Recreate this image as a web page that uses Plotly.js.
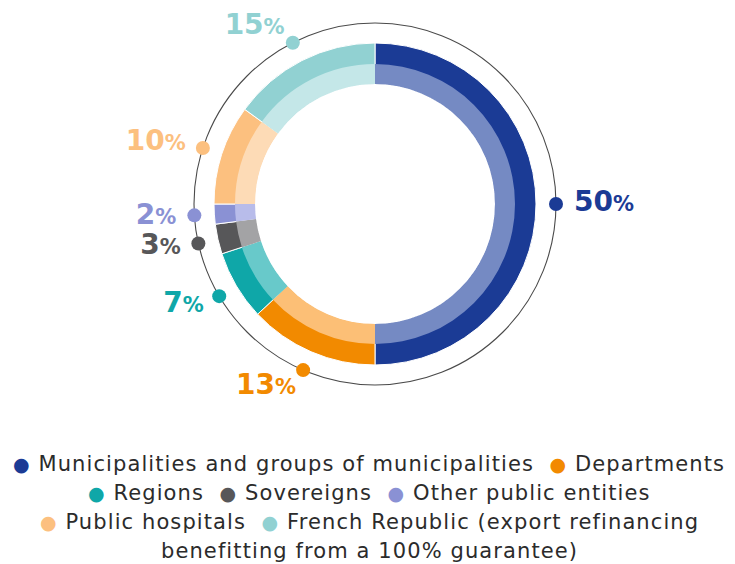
<!DOCTYPE html>
<html><head><meta charset="utf-8">
<script src="https://cdn.plot.ly/plotly-3.0.1.min.js"></script>
<style>html,body{margin:0;padding:0;background:#fff} .annotation-text{letter-spacing:1.1px}</style>
</head><body><div id="chart" style="width:735px;height:564px"></div>
<script>
// ---- data ----
const categories = ["Municipalities and groups of municipalities", "Departments", "Regions", "Sovereigns", "Other public entities", "Public hospitals", "French Republic (export refinancing benefitting from a 100% guarantee)"];
const shares = [50, 13, 7, 3, 2, 10, 15];
const outerColors = ["#1b3b95", "#f28a00", "#0fa7a8", "#575759", "#8a91d4", "#fcc07f", "#91d1d2"];
const innerColors = ["#758ac3", "#fcbf76", "#68c9ca", "#a3a3a5", "#b8bcea", "#fddbb6", "#c4e7e8"];
const labelPositions = ["middle right", "middle left", "middle left", "middle left", "middle left", "middle left", "middle left"];
const legendLabels = ["Municipalities and groups of municipalities", "Departments", "Regions", "Sovereigns", "Other public entities", "Public hospitals", "French Republic (export refinancing<br>benefitting from a 100% guarantee)"];
const legendRows = [[0, 1], [2, 3, 4], [5, 6]];

// ---- layout constants (pixels) ----
const W = 735, H = 564;
const CX = 375, CY = 204;
const R_OUTER = 161, R_MID = 140, R_HOLE = 120, R_LINE = 181, R_LABEL = 199, R_POLAR = 200;
const LABEL_FONT = "DejaVu Sans, Verdana, sans-serif";
const LEGEND_FONT = "DejaVu Sans, Verdana, sans-serif";

function dom(r) {
  return {x: [(CX - r) / W, (CX + r) / W], y: [1 - (CY + r) / H, 1 - (CY - r) / H]};
}

// midpoints of slices in degrees (clockwise from 12 o'clock)
const total = shares.reduce((a, b) => a + b, 0);
const mids = [];
let cum = 0;
shares.forEach(v => { mids.push((cum + v / 2) / total * 360); cum += v; });

const traces = [
  // dark ring (drawn under the light ring, spans both bands)
  {type: "pie", values: shares, labels: categories, sort: false, direction: "clockwise", rotation: 0,
   hole: R_HOLE / R_OUTER, textinfo: "none", hoverinfo: "label+percent",
   marker: {colors: outerColors, line: {color: "#ffffff", width: 1}}, domain: dom(R_OUTER)},
  // light inner band
  {type: "pie", values: shares, labels: categories, sort: false, direction: "clockwise", rotation: 0,
   hole: R_HOLE / R_MID, textinfo: "none", hoverinfo: "label+percent",
   marker: {colors: innerColors, line: {color: innerColors, width: 0}}, domain: dom(R_MID)},
  {type: "scatterpolar", mode: "markers", r: shares.map(() => R_LINE), theta: mids,
   marker: {size: 14, color: outerColors}, cliponaxis: false, hoverinfo: "skip"},
  {type: "scatterpolar", mode: "text", r: shares.map(() => R_LABEL), theta: mids,
   text: shares.map(v => '<b>' + v + '<span style="font-size:21px">%</span></b>'),
   textposition: labelPositions, cliponaxis: false,
   textfont: {family: LABEL_FONT, size: 28, color: outerColors}, hoverinfo: "skip"}
];

// legend built from categories & colours as centred text lines
const rowStrings = legendRows.map(row => row.map(i =>
  '<span style="color:' + outerColors[i] + ';font-size:19px">●</span> ' + legendLabels[i]).join('  '));
const lines = rowStrings.join('<br>').split('<br>');
const LEG_TOP = 464, LEG_GAP = 29;
const annotations = lines.map((t, k) => ({
  text: t, xref: "paper", yref: "paper", x: 369 / W, y: 1 - (LEG_TOP + k * LEG_GAP) / H,
  xanchor: "center", yanchor: "middle", showarrow: false,
  font: {family: LEGEND_FONT, size: 21, color: "#2b2b2b"}
}));

const layout = {
  width: W, height: H, margin: {l: 0, r: 0, t: 0, b: 0},
  paper_bgcolor: "#ffffff", showlegend: false,
  polar: {
    domain: dom(R_POLAR), bgcolor: "rgba(0,0,0,0)",
    radialaxis: {range: [0, R_POLAR], tickvals: [R_LINE], showgrid: true, gridcolor: "#4a4a4a", gridwidth: 1.1,
                 showline: false, showticklabels: false, ticks: ""},
    angularaxis: {rotation: 90, direction: "clockwise", showgrid: false, showline: false,
                  showticklabels: false, ticks: ""}
  },
  annotations: annotations
};

Plotly.newPlot("chart", traces, layout, {displayModeBar: false, staticPlot: true});
</script></body></html>
